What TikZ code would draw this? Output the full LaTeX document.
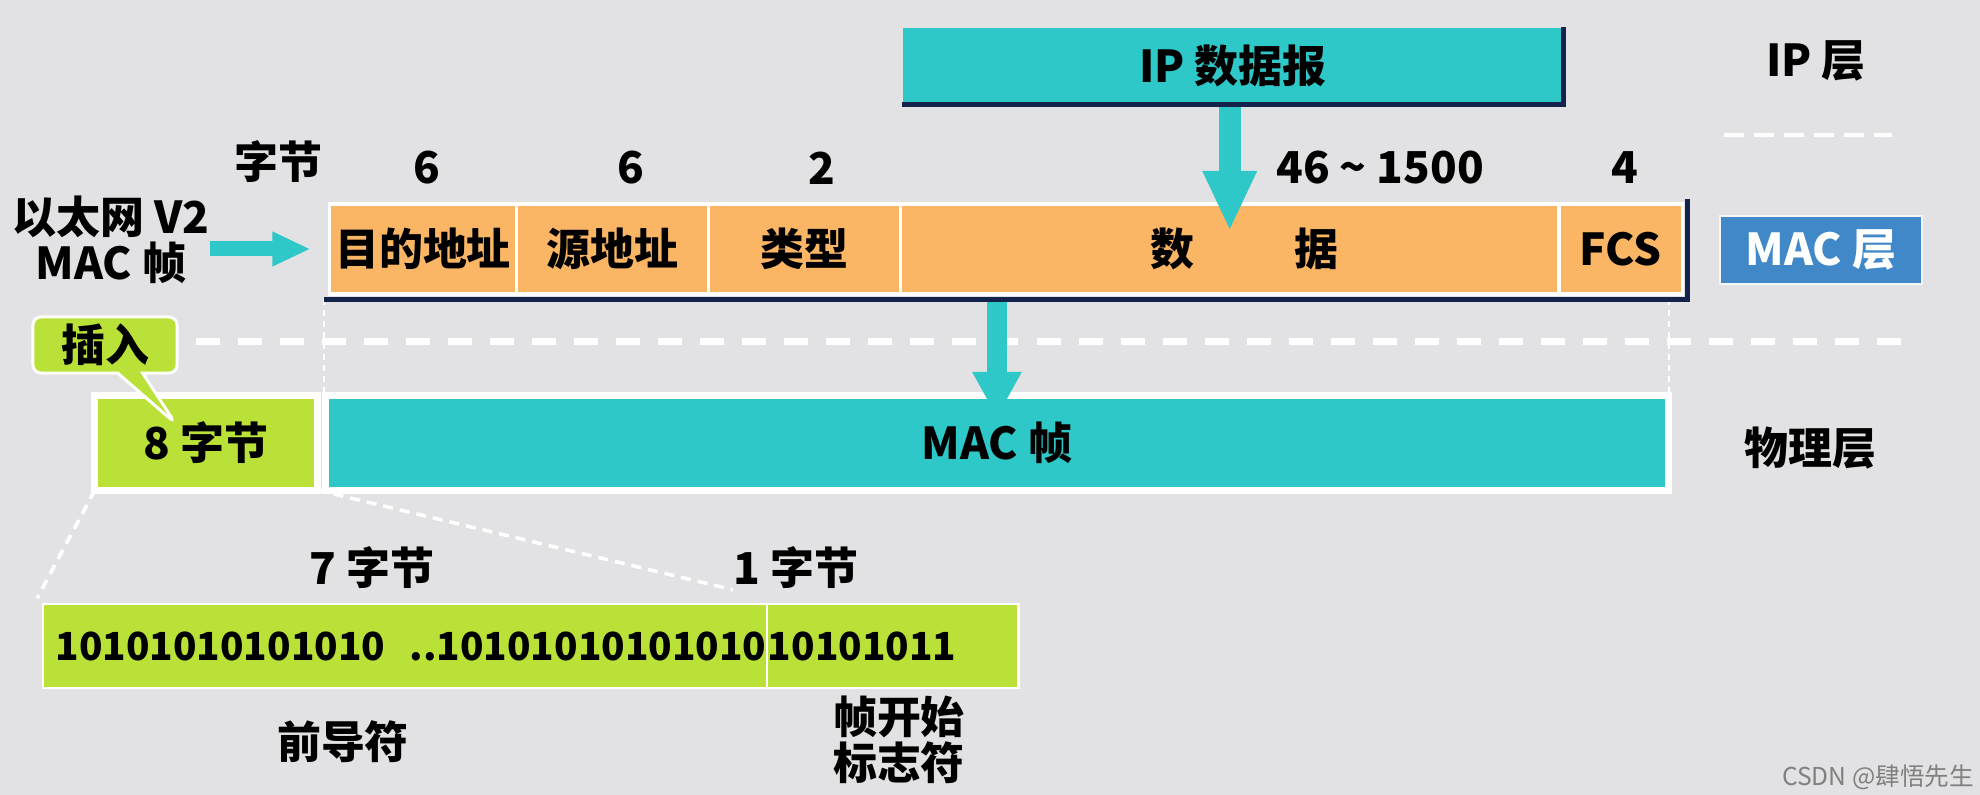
\documentclass[tikz,border=0pt]{standalone}
\usepackage{fontspec}
\setmainfont{Noto Sans CJK SC}
\usepackage{tikz}
\usetikzlibrary{shapes,shapes.callouts,arrows.meta,fit,calc,positioning,backgrounds}
\definecolor{bgcol}{RGB}{226,226,228}
\definecolor{tealc}{RGB}{46,200,200}
\definecolor{fieldorange}{RGB}{250,182,100}
\definecolor{limec}{RGB}{185,225,55}
\definecolor{macblue}{RGB}{64,136,200}
\definecolor{navy}{RGB}{20,35,75}
\newcommand{\lblfont}{\fontsize{12.5pt}{10.5pt}\selectfont\bfseries}
\newcommand{\binfont}{\fontsize{11pt}{12pt}\selectfont\bfseries}
\tikzset{field/.style={draw=white, line width=0.035cm, fill=fieldorange, minimum height=0.9cm, inner sep=0pt, outer sep=0pt}}
\tikzset{phys/.style={draw=white, line width=0.07cm, minimum height=0.94cm, inner sep=0pt, outer sep=0pt}}
\tikzset{binfield/.style={draw=white, line width=0.025cm, fill=limec, minimum height=0.84cm, inner sep=0pt, outer sep=0pt}}
\tikzset{lbl/.style={inner sep=0pt}}
\tikzset{flow/.style={draw=tealc, line width=0.2cm, -{Triangle[width=0.46cm,length=0.46cm]}}}
\tikzset{bigflow/.style={draw=tealc, line width=0.22cm, -{Triangle[width=0.5cm,length=0.6cm]}}}
\tikzset{thinflow/.style={draw=tealc, line width=0.15cm, -{Triangle[width=0.32cm,length=0.38cm]}}}
\tikzset{sepline/.style={draw=white, line width=0.07cm, dash pattern=on 0.24cm off 0.18cm}}
\tikzset{guide/.style={draw=white, line width=0.02cm, dash pattern=on 0.06cm off 0.05cm}}
\tikzset{zoomline/.style={draw=white, line width=0.035cm, dash pattern=on 0.1cm off 0.07cm}}
\begin{document}
\begin{tikzpicture}[x=0.01cm, y=-0.01cm, font=\lblfont]
        \fill[bgcol] (0,0) rectangle (1980,795);
        \useasboundingbox (0,0) rectangle (1980,795);
        % IP layer
        \node [fill=tealc, minimum width=6.6cm, minimum height=0.76cm] (ip) at (1233,66) {IP 数据报};
        \node [lbl] (iplayer) at (1816,61) {IP 层};
        \draw [sepline, line width=0.04cm, dash pattern=on 0.2cm off 0.1cm] (1724,135) -- (1892,135);
        %
        \node [field, minimum width=1.865cm]                    (dst)  at (423,249) {目的地址};
        \node [field, minimum width=1.92cm, right=0pt of dst]   (src)  {源地址};
        \node [field, minimum width=1.92cm, right=0pt of src]   (type) {类型};
        \node [field, minimum width=6.58cm, right=0pt of type]  (data) {\hspace*{0.3cm}数\hspace{1cm}据};
        \node [field, minimum width=1.235cm, right=0pt of data] (fcs)  {FCS};
        \begin{scope}[on background layer]
            \node [fit=(dst)(fcs), fill=white, inner sep=0.045cm] (frame) {};
        \end{scope}
        \node [lbl] (bytes) at (278,162) {字节};
        \node [lbl] (n1)    at (427,168) {6};
        \node [lbl] (n2)    at (631,168) {6};
        \node [lbl] (n3)    at (822,168) {2};
        \node [lbl] (n4)    at (1380,168) {46 \textasciitilde{} 1500};
        \node [lbl] (n5)    at (1625,168) {4};
        \node [lbl, align=center] (eth) at (111,240) {以太网 V2\\MAC 帧};
        \node [fill=macblue, draw=white!70!bgcol, line width=0.02cm, text=white, minimum width=2.02cm, minimum height=0.67cm] (maclayer) at (1821,250) {MAC 层};
        %
        \draw [sepline] (196,342) -- (1907,342);
        % physical layer
        \node [phys, fill=limec, minimum width=2.22cm]                    (pre8) at (206,443) {8 字节};
        \node [phys, fill=tealc, minimum width=13.43cm, right=0.08cm of pre8] (macf) {MAC 帧};
        \node [lbl] (phylayer) at (1810,448) {物理层};
        \draw [guide] (frame.south west) -- (frame.south west |- macf.north);
        \draw [guide] (macf.north east |- frame.south) -- (macf.north east);
        \coordinate (instip) at (175,423);
        \node [rectangle callout, callout absolute pointer=(instip), fill=limec, draw=white, line width=0.03cm, rounded corners=0.08cm, minimum width=1.44cm, minimum height=0.56cm, inner sep=0pt] (ins) at (105,345) {插入};
        %
        \node [binfield, minimum width=7.24cm]              (pre7) at (405,646) {};
        \node [binfield, minimum width=2.51cm, right=0pt of pre7] (sfd) {};
        \begin{scope}[on background layer]
            \node [fit=(pre7)(sfd), fill=white, inner sep=0.05cm] (binframe) {};
        \end{scope}
        \node [lbl, font=\binfont, anchor=west] (b1) at ([xshift=0.12cm]pre7.west) {10101010101010};
        \node [lbl, font=\binfont, anchor=east] (b2) at (pre7.east) {..10101010101010};
        \node [lbl, font=\binfont, anchor=west] (b3) at (sfd.west) {10101011};
        \node [lbl] (sevenb) at (372,568) {7 字节};
        \node [lbl] (oneb)   at (796,568) {1 字节};
        \node [lbl] (pream)  at (343,742) {前导符};
        \node [lbl, align=center] (sfdlbl) at (899,740) {帧开始\\标志符};
        \draw [zoomline] (pre8.south west) -- (binframe.north west);
        \draw [zoomline] (pre8.south east) -- (oneb.south west);
        %
        \draw [bigflow] (ip.south -| data.north) -- ([yshift=-0.27cm]data.north);
        \draw [flow] (frame.south -| macf.north) -- ([yshift=-0.22cm]macf.north);
        \draw [thinflow, shorten >=0.14cm] (eth.east |- dst) -- (frame.west |- dst);
        \draw [navy, line width=0.05cm] (ip.south west) -- (ip.south east) -- (ip.north east);
        \draw [navy, line width=0.05cm] (frame.south west) -- (frame.south east) -- (frame.north east);
        \node [lbl, font=\fontsize{7pt}{8pt}\selectfont, text=gray] (mark) at (1878,777) {CSDN @肆悟先生};
\end{tikzpicture}
\end{document}
